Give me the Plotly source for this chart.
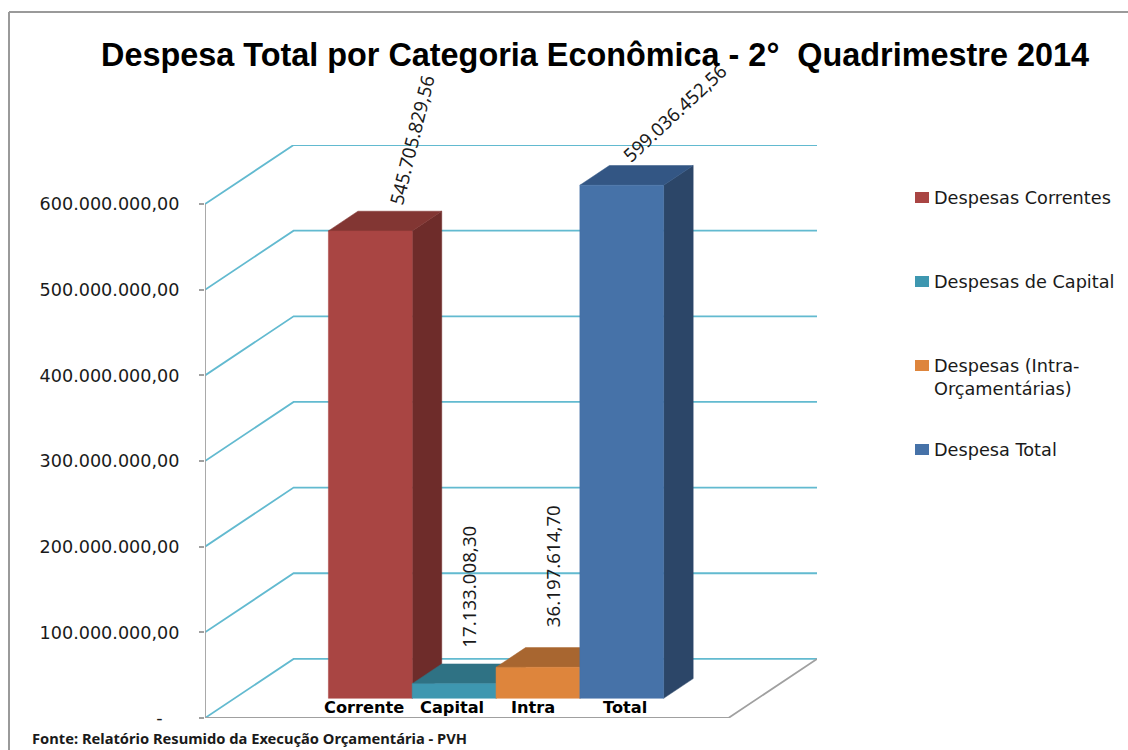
import plotly.graph_objects as go

# ---- data ----
categories = ["Corrente", "Capital", "Intra", "Total"]
values = [545705829.56, 17133008.30, 36197614.70, 599036452.56]
value_labels = ["545.705.829,56", "17.133.008,30", "36.197.614,70", "599.036.452,56"]
legend_names = ["Despesas Correntes", "Despesas de Capital", "Despesas (Intra-<br>Orçamentárias)", "Despesa Total"]
tick_values = [0, 100e6, 200e6, 300e6, 400e6, 500e6, 600e6]
tick_labels = ["-\u00a0\u00a0\u00a0", "100.000.000,00", "200.000.000,00", "300.000.000,00",
               "400.000.000,00", "500.000.000,00", "600.000.000,00"]

# ---- styles ----
front_colors = ["#A94543", "#3E97B0", "#DE853C", "#4672A8"]
top_colors = ["#823633", "#2F7284", "#A86630", "#335684"]
side_colors = ["#6E2C2A", "#2A6070", "#8F5728", "#2C4668"]
label_angles = [-76, -90, -90, -43]
label_shifts = [(26, 81), (0, 87), (0, 91), (38, 63)]     # px from top centre of each bar
cat_label_shifts = [-6, -2, -5, 3]
legend_y_px = [198, 282, 366, 450]
W, H = 1128, 750
FONT = "DejaVu Sans"
GRID = "#62BAD0"
AXIS = "#A0A0A0"

# ---- pseudo 3D projection (all in axis units) ----
DEPTH_X = 1.057          # category units for the full floor depth
DEPTH_Y = 69.0e6         # value units for the full floor depth
X_LEFT, X_RIGHT = -1.62, 4.625  # front edge of the floor
X_MAX = X_RIGHT + DEPTH_X
Y_TOP = 600e6
Y_MAX = Y_TOP + DEPTH_Y


def proj(x, y, z):
    return x + z * DEPTH_X, y + z * DEPTH_Y


def poly(points, color):
    pts = [proj(*p) for p in points]
    xs = [p[0] for p in pts] + [pts[0][0]]
    ys = [p[1] for p in pts] + [pts[0][1]]
    return go.Scatter(x=xs, y=ys, mode="lines", fill="toself", fillcolor=color,
                      line=dict(color=color, width=0.5), hoverinfo="skip", showlegend=False)


def line(points, color, width):
    pts = [proj(*p) for p in points]
    return go.Scatter(x=[p[0] for p in pts], y=[p[1] for p in pts], mode="lines",
                      line=dict(color=color, width=width), hoverinfo="skip", showlegend=False)


fig = go.Figure()

# walls
for t in tick_values:
    fig.add_trace(line([(X_LEFT, t, 0), (X_LEFT, t, 1), (X_RIGHT, t, 1)], GRID, 1.8))
fig.add_trace(line([(X_LEFT, Y_TOP, 0), (X_LEFT, 0, 0), (X_RIGHT, 0, 0), (X_RIGHT, 0, 1)], AXIS, 1.8))

# bars
Z0, Z1 = 1 / 3, 2 / 3
for i, v in enumerate(values):
    l, r = i - 0.5, i + 0.5
    fig.add_trace(poly([(r, 0, Z0), (r, 0, Z1), (r, v, Z1), (r, v, Z0)], side_colors[i]))
    fig.add_trace(poly([(l, v, Z0), (l, v, Z1), (r, v, Z1), (r, v, Z0)], top_colors[i]))
    fig.add_trace(poly([(l, 0, Z0), (r, 0, Z0), (r, v, Z0), (l, v, Z0)], front_colors[i]))

annotations = []
# data labels, anchored at the top centre of each bar
for i, v in enumerate(values):
    ax, ay = proj(i, v, 0.5)
    dx, dy = label_shifts[i]
    annotations.append(dict(x=ax, y=ay, xref="x", yref="y", text=value_labels[i], showarrow=False,
                            textangle=label_angles[i], xshift=dx, yshift=dy,
                            font=dict(family="Noto Sans", size=18.7, color="#1a1a1a")))
# category labels
for i, c in enumerate(categories):
    ax, _ = proj(i, 0, Z0)
    annotations.append(dict(x=ax, y=0, xref="x", yref="y", yanchor="bottom", yshift=-1,
                            xshift=cat_label_shifts[i], text=f"<b>{c}</b>", showarrow=False,
                            font=dict(family="DejaVu Sans", size=16.2, color="#000000")))
# title and source
annotations.append(dict(x=595 / W, y=1 - 55 / H, xref="paper", yref="paper", showarrow=False, yanchor="middle",
                        text="<b>Despesa Total por Categoria Econômica - 2°  Quadrimestre 2014</b>",
                        font=dict(family="Liberation Sans", size=32.4, color="#000000")))
annotations.append(dict(x=30 / W, y=1 - 738 / H, xref="paper", yref="paper", xanchor="left", yanchor="middle",
                        showarrow=False,
                        text="<b>Fonte: Relatório Resumido da Execução Orçamentária - PVH</b>",
                        font=dict(family="Noto Sans", size=14.7, color="#1a1a1a")))

shapes = [dict(type="line", xref="paper", yref="paper", x0=9 / W, x1=9 / W, y0=0, y1=1 - 12 / H,
               line=dict(color="#9A9A9A", width=2)),
          dict(type="line", xref="paper", yref="paper", x0=9 / W, x1=1, y0=1 - 12 / H, y1=1 - 12 / H,
               line=dict(color="#9A9A9A", width=2))]

# legend
for name, color, yp in zip(legend_names, front_colors, legend_y_px):
    shapes.append(dict(type="rect", xref="paper", yref="paper", x0=915 / W, x1=929 / W,
                       y0=1 - (yp + 5) / H, y1=1 - (yp - 6) / H, fillcolor=color, line=dict(width=0)))
    annotations.append(dict(x=934 / W - 0.002, y=1 - (yp - 12) / H, xref="paper", yref="paper", xanchor="left",
                            yanchor="top", align="left", showarrow=False, text=name,
                            font=dict(family=FONT, size=17.7, color="#1a1a1a")))

fig.update_layout(
    width=W, height=H, autosize=False,
    margin=dict(l=0, r=0, t=0, b=0),
    paper_bgcolor="white", plot_bgcolor="white",
    showlegend=False,
    annotations=annotations, shapes=shapes,
    xaxis=dict(domain=[205 / W, 817 / W], range=[X_LEFT, X_MAX], visible=False, fixedrange=True,
               automargin=False),
    yaxis=dict(domain=[1 - 718 / H, 1 - 145 / H], range=[0, Y_MAX], tickmode="array",
               tickvals=tick_values, ticktext=tick_labels, ticks="outside", ticklen=5,
               tickcolor=AXIS, tickwidth=1.5, showgrid=False, zeroline=False, showline=False,
               ticklabelstandoff=16, fixedrange=True, automargin=False,
               tickfont=dict(family=FONT, size=17.6, color="#1a1a1a")),
)

fig.write_html("out.html", config={"displayModeBar": False},
               post_script="document.body.style.margin='0';")
